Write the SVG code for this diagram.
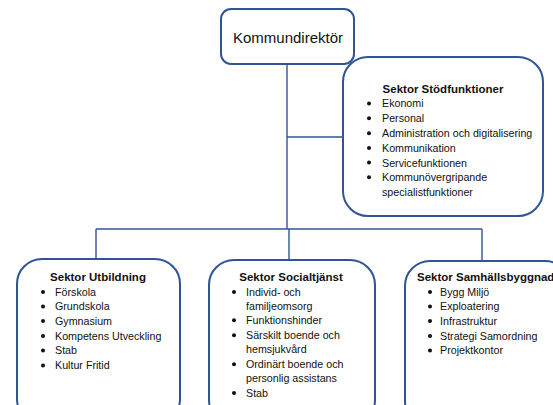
<svg xmlns="http://www.w3.org/2000/svg" width="553" height="405" viewBox="0 0 553 405">
<style>
.box{fill:#fff;stroke:#2F5597;stroke-width:2}
.con{fill:none;stroke:#2F5597;stroke-width:1.4}
.t{font-family:"Liberation Sans",Arial,sans-serif;font-size:10.7px;fill:#111}
.h{font-family:"Liberation Sans",Arial,sans-serif;font-size:11.5px;font-weight:bold;fill:#111}
.b{fill:#111}
</style>
<rect width="553" height="405" fill="#fff"/>
<g id="connectors">
<path class="con" d="M287 64 V229 M287 137 H343 M96 229 H482 M96 229 V259 M289 229 V260 M482 229 V261"/>
</g>
<g id="kommundirektor">
<rect class="box" x="221" y="9" width="133" height="55" rx="10"/>
<text x="288" y="43" text-anchor="middle" style="font-family:'Liberation Sans',Arial,sans-serif;font-size:15px;fill:#111">Kommundirektör</text>
</g>
<g id="stodfunktioner">
<rect class="box" x="343" y="57" width="200" height="159" rx="25"/>
<text class="h" x="443" y="92.5" text-anchor="middle">Sektor Stödfunktioner</text>
<g class="b"><circle cx="369" cy="103.5" r="2"/><circle cx="369" cy="118.3" r="2"/><circle cx="369" cy="133.2" r="2"/><circle cx="369" cy="148" r="2"/><circle cx="369" cy="162.6" r="2"/><circle cx="369" cy="177.3" r="2"/></g>
<text class="t" x="382" y="107">Ekonomi</text>
<text class="t" x="382" y="122">Personal</text>
<text class="t" x="382" y="137">Administration och digitalisering</text>
<text class="t" x="382" y="152">Kommunikation</text>
<text class="t" x="382" y="166.5">Servicefunktionen</text>
<text class="t" x="382" y="181">Kommunövergripande</text>
<text class="t" x="382" y="195.5">specialistfunktioner</text>
</g>
<g id="utbildning">
<rect class="box" x="17" y="259" width="163" height="165" rx="25"/>
<text class="h" x="98" y="281" text-anchor="middle">Sektor Utbildning</text>
<g class="b"><circle cx="43" cy="292" r="2"/><circle cx="43" cy="306.5" r="2"/><circle cx="43" cy="321" r="2"/><circle cx="43" cy="336" r="2"/><circle cx="43" cy="350.5" r="2"/><circle cx="43" cy="365.5" r="2"/></g>
<text class="t" x="55" y="295.5">Förskola</text>
<text class="t" x="55" y="310">Grundskola</text>
<text class="t" x="55" y="324.7">Gymnasium</text>
<text class="t" x="55" y="339.7">Kompetens Utveckling</text>
<text class="t" x="55" y="354">Stab</text>
<text class="t" x="55" y="369">Kultur Fritid</text>
</g>
<g id="socialtjanst">
<rect class="box" x="209" y="260" width="166" height="165" rx="25"/>
<text class="h" x="291" y="280.5" text-anchor="middle">Sektor Socialtjänst</text>
<g class="b"><circle cx="234" cy="292" r="2"/><circle cx="234" cy="320.3" r="2"/><circle cx="234" cy="335.3" r="2"/><circle cx="234" cy="364.3" r="2"/><circle cx="234" cy="393" r="2"/></g>
<text class="t" x="246" y="295.5">Individ- och</text>
<text class="t" x="246" y="310">familjeomsorg</text>
<text class="t" x="246" y="324">Funktionshinder</text>
<text class="t" x="246" y="339">Särskilt boende och</text>
<text class="t" x="246" y="353">hemsjukvård</text>
<text class="t" x="246" y="368">Ordinärt boende och</text>
<text class="t" x="246" y="382">personlig assistans</text>
<text class="t" x="246" y="397">Stab</text>
</g>
<g id="samhallsbyggnad">
<rect class="box" x="405" y="261" width="165" height="165" rx="25"/>
<text class="h" x="417" y="280.5">Sektor Samhällsbyggnad</text>
<g class="b"><circle cx="430" cy="292" r="2"/><circle cx="430" cy="306.5" r="2"/><circle cx="430" cy="321" r="2"/><circle cx="430" cy="336" r="2"/><circle cx="430" cy="350.5" r="2"/></g>
<text class="t" x="440" y="295.5">Bygg Miljö</text>
<text class="t" x="440" y="310">Exploatering</text>
<text class="t" x="440" y="324.7">Infrastruktur</text>
<text class="t" x="440" y="339.7">Strategi Samordning</text>
<text class="t" x="440" y="354">Projektkontor</text>
</g>
</svg>
